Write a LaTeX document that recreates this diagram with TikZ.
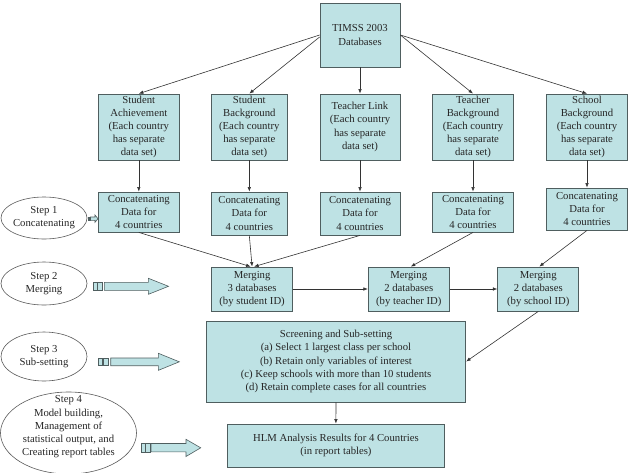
\documentclass[tikz,border=0pt]{standalone}
\usepackage{fontspec}
\setmainfont{Liberation Serif}
\usetikzlibrary{arrows.meta}
\definecolor{boxfill}{HTML}{BEE2E4}
\definecolor{boxline}{HTML}{4F5E5F}
\definecolor{conn}{HTML}{333333}
\tikzset{
  box/.style={draw=boxline, fill=boxfill, line width=0.8pt, rectangle, inner sep=0pt, align=center, text=black!85, font=\fontsize{10.7}{13.2}\selectfont},
  stepell/.style={draw=black!65, ellipse, line width=0.6pt, inner sep=0pt},
  steptext/.style={align=center, text=black!85, font=\fontsize{10.7}{13.2}\selectfont},
  conn/.style={draw=conn, line width=0.6pt, -{Latex[length=4.5pt,width=3.5pt]}},
  blockarrow/.style={draw=boxline, fill=boxfill, line width=0.6pt, line join=miter},
  blockbar/.style={draw=boxline, fill=boxfill, line width=0.6pt},
}
\usetikzlibrary{shapes.geometric}
\begin{document}
\begin{tikzpicture}[x=1pt, y=-1pt]
\useasboundingbox (0,0) rectangle (629,472);
% top
\node[box, minimum width=80pt, minimum height=64pt] (tim) at (360,35) {TIMSS 2003\\Databases};
% row 1
\node[box, minimum width=81pt, minimum height=66pt] (sa) at (138.8,127) {Student\\Achievement\\(Each country\\has separate\\data set)};
\node[box, minimum width=76pt, minimum height=66pt] (sb) at (249.3,127) {Student\\Background\\(Each country\\has separate\\data set)};
\node[box, minimum width=80pt, minimum height=66pt] (tl) at (360,127) {Teacher Link\\(Each country\\has separate\\data set)};
\node[box, minimum width=80.6pt, minimum height=66pt] (tb) at (473,127) {Teacher\\Background\\(Each country\\has separate\\data set)};
\node[box, minimum width=81.4pt, minimum height=66pt] (scb) at (587,127) {School\\Background\\(Each country\\has separate\\data set)};
% row 2
\node[box, minimum width=81pt, minimum height=40pt] (c1) at (138.8,212) {Concatenating\\Data for\\4 countries};
\node[box, minimum width=76pt, minimum height=43pt] (c2) at (249.3,213.5) {Concatenating\\Data for\\4 countries};
\node[box, minimum width=80pt, minimum height=43pt] (c3) at (360,213.5) {Concatenating\\Data for\\4 countries};
\node[box, minimum width=80.6pt, minimum height=40pt] (c4) at (473,212) {Concatenating\\Data for\\4 countries};
\node[box, minimum width=81.4pt, minimum height=42pt] (c5) at (587,209) {Concatenating\\Data for\\4 countries};
% merging
\node[box, minimum width=81.4pt, minimum height=44pt] (m1) at (252.1,289) {Merging\\3 databases\\(by student ID)};
\node[box, minimum width=81.1pt, minimum height=44pt] (m2) at (408.8,289) {Merging\\2 databases\\(by teacher ID)};
\node[box, minimum width=81pt, minimum height=44pt] (m3) at (538.3,289) {Merging\\2 databases\\(by school ID)};
% screening
\node[box, minimum width=259.5pt, minimum height=81pt] (scr) at (336,361.5) {Screening and Sub-setting\\(a) Select 1 largest class per school\\(b) Retain only variables of interest\\(c) Keep schools with more than 10 students\\(d) Retain complete cases for all countries};
\node[box, minimum width=216.2pt, minimum height=43pt] (hlm) at (335.9,445.5) {HLM Analysis Results for 4 Countries\\(in report tables)};
% ellipses
\node[stepell, minimum width=86pt, minimum height=42pt] (s1) at (44,218) {};
\node[steptext] (s1t) at (44,218) {Step 1\\Concatenating};
\node[stepell, minimum width=86pt, minimum height=43pt] (s2) at (44,283.5) {};
\node[steptext] (s2t) at (44,283.5) {Step 2\\Merging};
\node[stepell, minimum width=86pt, minimum height=49pt] (s3) at (44,356.5) {};
\node[steptext] (s3t) at (44,356.5) {Step 3\\Sub-setting};
\node[stepell, minimum width=136pt, minimum height=82pt] (s4) at (68.5,433) {};
\node[steptext] (s4t) at (68.5,427) {Step 4\\Model building,\\Management of\\statistical output, and\\Creating report tables};
% connectors from top
\draw[conn] (tim.west) -- (sa.north);
\draw[conn] ([yshift=-2pt]tim.west) -- (sb.north);
\draw[conn] (tim.south) -- (tl.north);
\draw[conn] (tim.east) -- (tb.north);
\draw[conn] (tim.east) -- (scb.north);
% row1 -> row2
\draw[conn] (sa.south) -- (c1.north);
\draw[conn] (sb.south) -- (c2.north);
\draw[conn] (tl.south) -- (c3.north);
\draw[conn] (tb.south) -- (c4.north);
\draw[conn] (scb.south) -- (c5.north);
% row2 -> merging
\draw[conn] (c1.south) -- ([xshift=-1.5pt]m1.north);
\draw[conn] (c2.south) -- (m1.north);
\draw[conn] (c3.south) -- ([xshift=2pt]m1.north);
\draw[conn] (c4.south) -- ([xshift=2pt]m2.north);
\draw[conn] (c5.south) -- ([xshift=1pt]m3.north);
\draw[conn] (m1.east) -- (m2.west);
\draw[conn] (m2.east) -- (m3.west);
\draw[conn] (m3.south) -- (scr.east);
\draw[conn] (scr.south) -- (hlm.north);
% block arrows
% step 1 (tiny)
\fill[boxline] (87.7,216.5) rectangle (90.5,220.5);
\draw[blockarrow] (90.5,217) -- (95,217) -- (95,215) -- (98,218.7) -- (95,222.3) -- (95,220.3) -- (90.5,220.3) -- cycle;
% step 2
\draw[blockbar] (93,282.3) rectangle (97,290.3);
\draw[blockbar] (97.6,282.3) rectangle (102.3,290.3);
\draw[blockarrow] (104.3,282.3) -- (148.4,282.3) -- (148.4,278.3) -- (168.5,286.3) -- (148.4,294.3) -- (148.4,290.3) -- (104.3,290.3) -- cycle;
% step 3
\draw[blockbar] (98.3,358) rectangle (102.3,365.7);
\draw[blockbar] (102.8,358) rectangle (108.3,365.7);
\draw[blockarrow] (110.7,358) -- (158.4,358) -- (158.4,353.3) -- (179.3,361.8) -- (158.4,370.3) -- (158.4,365.7) -- (110.7,365.7) -- cycle;
% step 4
\draw[blockbar] (141.7,443.5) rectangle (145,451.8);
\draw[blockbar] (145.5,443.5) rectangle (150,451.8);
\draw[blockarrow] (151,443.5) -- (186,443.5) -- (186,439.3) -- (200.7,447.8) -- (186,456.5) -- (186,451.8) -- (151,451.8) -- cycle;
\end{tikzpicture}
\end{document}
